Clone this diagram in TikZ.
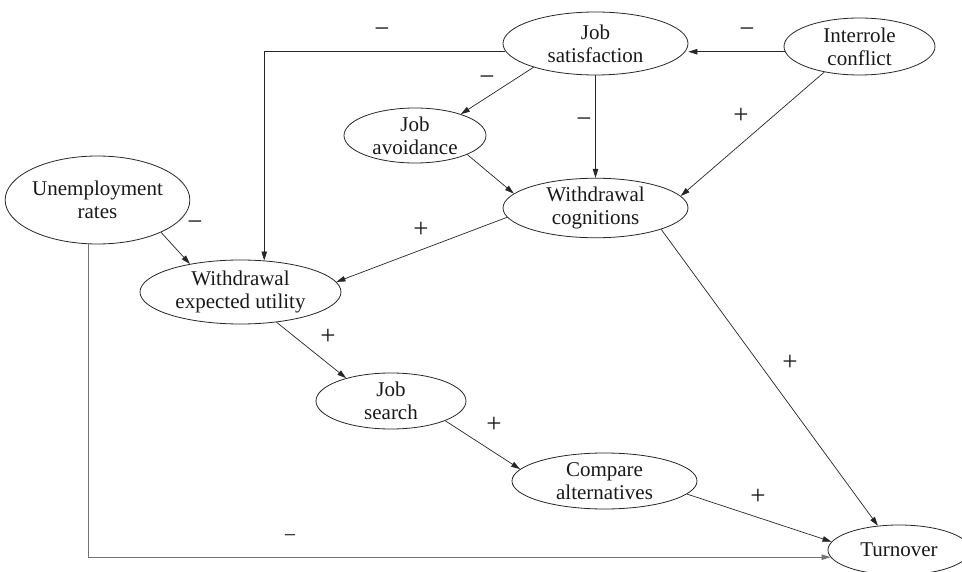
\documentclass[tikz,border=0pt]{standalone}
\usepackage{fontspec}
\setmainfont{Liberation Serif}
\usetikzlibrary{shapes.geometric,arrows.meta}
\begin{document}
\begin{tikzpicture}[x=1pt,y=-1pt,
  box/.style={draw=black!85, ellipse, line width=0.8pt, inner sep=0pt, align=center,
    font=\fontsize{21}{23}\selectfont, text=black!90},
  arr/.style={draw=black!85, line width=0.7pt, -{Triangle[length=9pt,width=5.5pt]}},
  grayarr/.style={draw=black!55, line width=1.1pt, -{Triangle[length=9pt,width=5.5pt]}},
  sign/.style={font=\fontsize{27}{27}\selectfont, inner sep=0pt, text=black!90},
  smallsign/.style={font=\fontsize{22}{22}\selectfont, inner sep=0pt, text=black!90}]
\useasboundingbox (0,0) rectangle (962,572);

% nodes
\node[box, minimum width=185pt, minimum height=63pt] (js)  at (595.5,43.5) {Job\\satisfaction};
\node[box, minimum width=151pt, minimum height=57pt] (ic)  at (859.5,46.5) {Interrole\\conflict};
\node[box, minimum width=142pt, minimum height=55pt] (ja)  at (415,135.5)  {Job\\avoidance};
\node[box, minimum width=185pt, minimum height=56pt] (wc)  at (595.5,208)  {Withdrawal\\cognitions};
\node[box, minimum width=177pt, minimum height=88pt] (ur)  at (97.5,200)   {Unemployment\\rates};
\node[box, minimum width=201pt, minimum height=64pt] (weu) at (240.5,292)  {Withdrawal\\expected utility};
\node[box, minimum width=150pt, minimum height=56pt] (jsr) at (391,401)    {Job\\search};
\node[box, minimum width=185pt, minimum height=56pt] (ca)  at (604.5,481)  {Compare\\alternatives};
\node[box, minimum width=142pt, minimum height=50pt] (to)  at (899,550)    {Turnover};

% connectors
\draw[arr] (ic.184) -- (ic.184 -| js.east);
\draw[arr] (js.185) -| (weu.53);
\draw[arr] (js.201) -- (ja.25);
\draw[arr] (js.south) -- (wc.north);
\draw[arr] (ic.216) -- (wc.8);
\draw[arr] (ja.340) -- (wc.170);
\draw[arr] (wc.186) -- (weu.6);
\draw[arr] (ur.333) -- (weu.151);
\draw[grayarr] (ur.258) |- (to.186);
\draw[arr] (weu.320) -- (jsr.153);
\draw[arr] (jsr.340) -- (ca.172);
\draw[arr] (wc.342) -- (to.131);
\draw[arr] (ca.351) -- (to.173);

% signs
\node[sign] (s1)  at (747,33)  {−};
\node[sign] (s2)  at (382,33)  {−};
\node[sign] (s3)  at (487,81)  {−};
\node[sign] (s4)  at (584,123) {−};
\node[sign] (s5)  at (741,116) {+};
\node[sign] (s6)  at (421,230) {+};
\node[sign] (s7)  at (195,226) {−};
\node[sign] (s8)  at (328,337) {+};
\node[sign] (s9)  at (494,425) {+};
\node[sign] (s10) at (790,363) {+};
\node[sign] (s11) at (758,497) {+};
\node[smallsign] (s12) at (290,539) {−};
\end{tikzpicture}
\end{document}
